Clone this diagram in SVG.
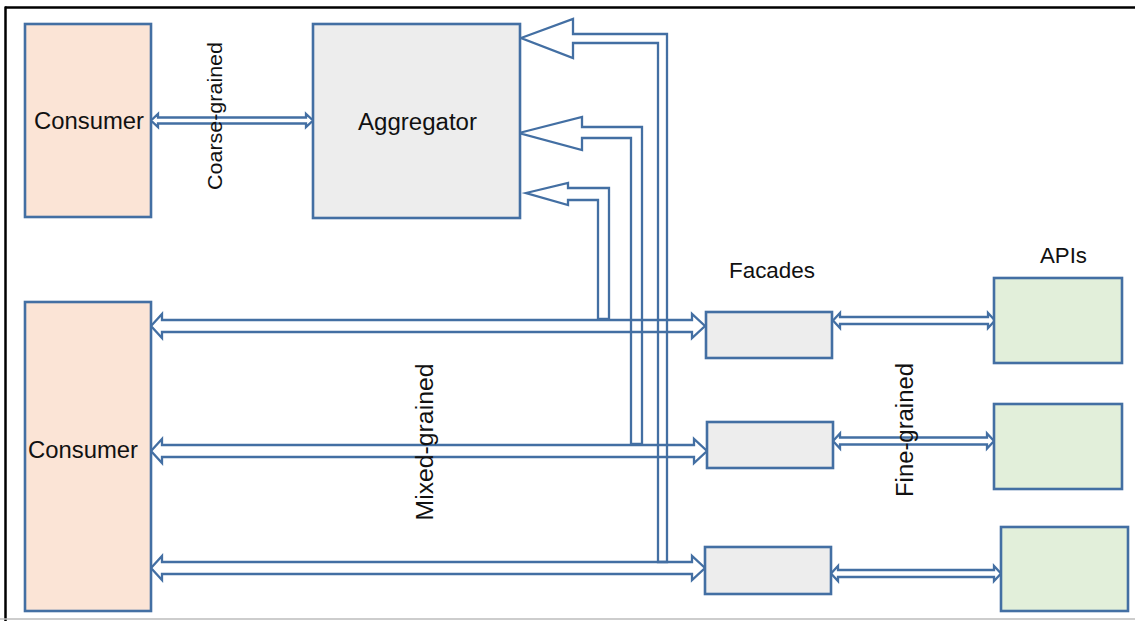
<svg xmlns="http://www.w3.org/2000/svg" width="1135" height="621" viewBox="0 0 1135 621">
<defs>
<style>
.box{stroke:#436fa3;stroke-width:2.6}
.consumer{fill:#fbe4d6}
.agg{fill:#ededed}
.facade{fill:#ededed}
.api{fill:#e2efda}
.conn{fill:none;stroke:#436fa3;stroke-width:2.3;stroke-linejoin:miter}
.lbl{font-family:"Liberation Sans",Arial,sans-serif;fill:#111}
</style>
</defs>
<rect x="0" y="0" width="1135" height="621" fill="#ffffff"/>
<g id="frame">
<line x1="5" y1="7.5" x2="1135" y2="7.5" stroke="#000" stroke-width="2.5"/>
<line x1="5.5" y1="6.5" x2="5.5" y2="621" stroke="#000" stroke-width="2.5"/>
<line x1="0" y1="619" x2="1135" y2="619" stroke="#bdbdbd" stroke-width="1.5"/>
</g>
<g id="connectors">
<path class="conn" d="M151,120.5 L158,114 L158,117.5 L306,117.5 L306,114 L313,120.5 L306,127 L306,123.5 L158,123.5 L158,127 Z"/>
<path class="conn" d="M151,326 L162,314 L162,320 L692,320 L692,314 L705,326 L692,338 L692,332 L162,332 L162,338 Z"/>
<path class="conn" d="M151,451 L162,439 L162,445 L694,445 L694,439 L707,451 L694,463 L694,457 L162,457 L162,463 Z"/>
<path class="conn" d="M151,568 L162,556 L162,562 L692,562 L692,556 L705,568 L692,580 L692,574 L162,574 L162,580 Z"/>
<path class="conn" d="M521,38 L573,19 L573,34 L667,34 L667,562 L658,562 L658,43 L573,43 L573,58 Z"/>
<path class="conn" d="M519,133 L582,117 L582,127 L642,127 L642,444 L631,444 L631,138 L582,138 L582,150 Z"/>
<path class="conn" d="M526,193 L568,183 L568,188 L609,188 L609,319 L598,319 L598,200 L568,200 L568,205 Z"/>
<path class="conn" d="M833,320.5 L840,313 L840,317 L988,317 L988,313 L995,320.5 L988,328 L988,324 L840,324 L840,328 Z"/>
<path class="conn" d="M833,441 L840,433.5 L840,437.5 L987,437.5 L987,433.5 L994,441 L987,448.5 L987,444.5 L840,444.5 L840,448.5 Z"/>
<path class="conn" d="M831,573.5 L838,566 L838,570 L994,570 L994,566 L1001,573.5 L994,581 L994,577 L838,577 L838,581 Z"/>
</g>
<g id="consumer1">
<rect class="box consumer" x="25" y="24" width="126" height="193"/>
<text class="lbl" x="89" y="129" font-size="23" text-anchor="middle" textLength="110" lengthAdjust="spacingAndGlyphs">Consumer</text>
</g>
<g id="aggregator">
<rect class="box agg" x="313" y="24" width="207" height="194"/>
<text class="lbl" x="417.5" y="130" font-size="23" text-anchor="middle" textLength="119" lengthAdjust="spacingAndGlyphs">Aggregator</text>
</g>
<g id="consumer2">
<rect class="box consumer" x="25" y="302" width="126" height="309"/>
<text class="lbl" x="83" y="458" font-size="23" text-anchor="middle" textLength="110" lengthAdjust="spacingAndGlyphs">Consumer</text>
</g>
<g id="facade1">
<rect class="box facade" x="706" y="312" width="126" height="46"/>
</g>
<g id="facade2">
<rect class="box facade" x="707" y="422" width="126" height="46"/>
</g>
<g id="facade3">
<rect class="box facade" x="705" y="547" width="126" height="47"/>
</g>
<g id="api1">
<rect class="box api" x="994" y="278" width="128" height="85"/>
</g>
<g id="api2">
<rect class="box api" x="994" y="404" width="128" height="85"/>
</g>
<g id="api3">
<rect class="box api" x="1001" y="527" width="127" height="84"/>
</g>
<g id="labels">
<text class="lbl" x="772" y="278" font-size="22" text-anchor="middle" textLength="86" lengthAdjust="spacingAndGlyphs">Facades</text>
<text class="lbl" x="1063.5" y="263" font-size="22" text-anchor="middle" textLength="47" lengthAdjust="spacingAndGlyphs">APIs</text>
<text class="lbl" transform="translate(214,116) rotate(-90)" font-size="21" text-anchor="middle" dominant-baseline="central" textLength="148" lengthAdjust="spacingAndGlyphs">Coarse-grained</text>
<text class="lbl" transform="translate(425,442) rotate(-90)" font-size="23" text-anchor="middle" dominant-baseline="central" textLength="157" lengthAdjust="spacingAndGlyphs">Mixed-grained</text>
<text class="lbl" transform="translate(905,430) rotate(-90)" font-size="23" text-anchor="middle" dominant-baseline="central" textLength="134" lengthAdjust="spacingAndGlyphs">Fine-grained</text>
</g>
</svg>
